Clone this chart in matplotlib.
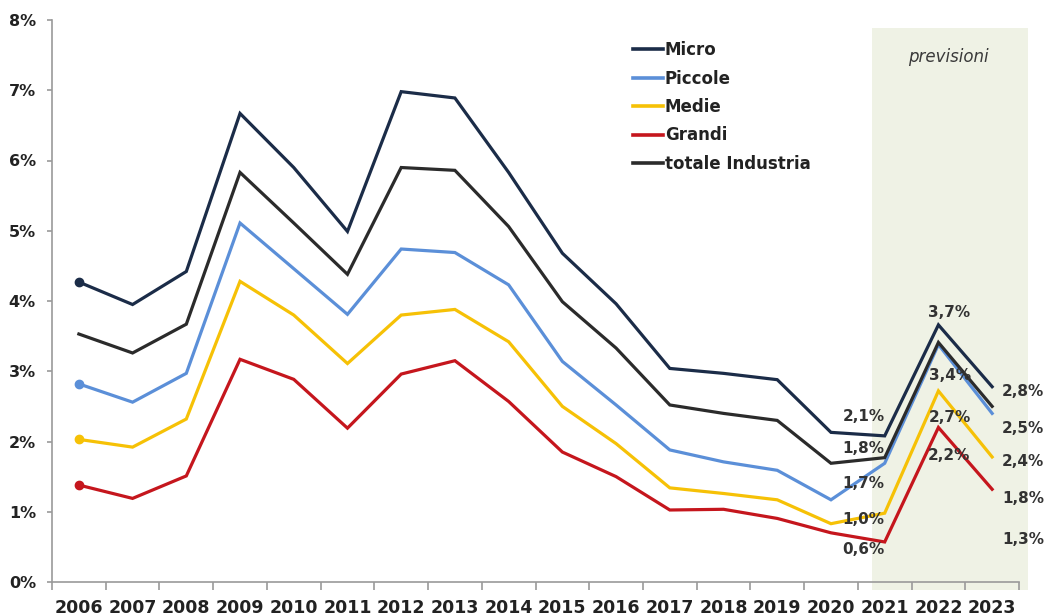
import matplotlib
matplotlib.use("Agg")
import matplotlib.pyplot as plt
from matplotlib.patches import Rectangle
from matplotlib.lines import Line2D

# ---- data ----
years = ["2006", "2007", "2008", "2009", "2010", "2011", "2012", "2013", "2014",
         "2015", "2016", "2017", "2018", "2019", "2020", "2021", "2022", "2023"]
micro = [4.27, 3.95, 4.42, 6.67, 5.90, 4.99, 6.98, 6.89, 5.83,
         4.68, 3.96, 3.04, 2.97, 2.88, 2.13, 2.08, 3.66, 2.78]
piccole = [2.82, 2.56, 2.97, 5.11, 4.46, 3.81, 4.74, 4.69, 4.23,
           3.14, 2.52, 1.88, 1.71, 1.59, 1.17, 1.69, 3.38, 2.40]
medie = [2.03, 1.92, 2.32, 4.28, 3.80, 3.11, 3.80, 3.88, 3.42,
         2.50, 1.97, 1.34, 1.26, 1.17, 0.83, 0.98, 2.72, 1.78]
grandi = [1.38, 1.19, 1.51, 3.17, 2.885, 2.19, 2.96, 3.15, 2.57,
          1.85, 1.50, 1.025, 1.035, 0.905, 0.70, 0.57, 2.20, 1.32]
totale = [3.53, 3.26, 3.67, 5.83, 5.11, 4.38, 5.90, 5.86, 5.06,
          3.99, 3.33, 2.52, 2.40, 2.30, 1.69, 1.77, 3.41, 2.50]
y_ticks = [0, 1, 2, 3, 4, 5, 6, 7, 8]
forecast_from = "2021"

# ---- styling ----
FONT = "DejaVu Sans"
TXT = "#222222"
AXC = "#9a9a9a"
series = [
    # name, values, colour, start dot
    ("Grandi", grandi, "#c5161d", True),
    ("Medie", medie, "#f6c106", True),
    ("Piccole", piccole, "#5b8fd8", True),
    ("totale Industria", totale, "#2b2b2b", False),
    ("Micro", micro, "#1b2c48", True),
]
legend_order = ["Micro", "Piccole", "Medie", "Grandi", "totale Industria"]

# label placements: (series, year index, dx px, dy px, ha)
labels = [
    ("Micro", 15, 0, 19, "right"), ("totale Industria", 15, 0, 9, "right"),
    ("Piccole", 15, 0, -20, "right"), ("Medie", 15, 0, -6, "right"),
    ("Grandi", 15, 0, -8, "right"),
    ("Micro", 16, 11, 12, "center"), ("totale Industria", 16, 12, -33, "center"),
    ("Medie", 16, 11, -27, "center"), ("Grandi", 16, 11, -28, "center"),
    ("Micro", 17, 10, -5, "left"), ("totale Industria", 17, 10, -22, "left"),
    ("Piccole", 17, 10, -48, "left"), ("Medie", 17, 10, -42, "left"),
    ("Grandi", 17, 10, -50, "left"),
]

fig = plt.figure(figsize=(10.47, 6.16), dpi=100)
ax = fig.add_axes([52 / 1047, 1 - 582 / 616, (1019 - 52) / 1047, (582 - 20) / 616])

x = list(range(len(years)))
ax.set_xlim(-0.5, len(years) - 0.5)
ax.set_ylim(0, 8)

# forecast band
fi = years.index(forecast_from)
band = Rectangle((fi - 0.23, -0.115), 2.9, 8.0, facecolor="#eff2e5",
                 edgecolor="none", zorder=0, clip_on=False)
ax.add_patch(band)
ax.text(fi + 1.18, 7.47, "previsioni", style="italic", fontsize=12,
        color="#3a3a3a", ha="center", va="center", family=FONT)

handles = {}
for name, vals, col, dot in series:
    ax.plot(x, vals, color=col, lw=2.3, solid_joinstyle="miter", zorder=3)
    if dot:
        ax.plot(x[0], vals[0], "o", color=col, ms=6, zorder=4)
    handles[name] = Line2D([], [], color=col, lw=2.6)

values = {name: vals for name, vals, _, _ in series}
for name, i, dx, dy, ha in labels:
    v = values[name][i]
    ax.annotate(f"{v:.1f}%".replace(".", ","), (x[i], v),
                xytext=(dx, dy), textcoords="offset pixels",
                ha=ha, va="center", fontsize=11, fontweight="bold",
                color="#333333", family=FONT, annotation_clip=False,
                zorder=5)

# axes
for s in ("top", "right"):
    ax.spines[s].set_visible(False)
for s in ("left", "bottom"):
    ax.spines[s].set_color(AXC)
    ax.spines[s].set_linewidth(1.2)

ax.set_yticks(y_ticks)
ax.set_yticklabels([f"{t}%" for t in y_ticks], fontsize=11.5,
                   fontweight="bold", family=FONT, color=TXT)
ax.tick_params(axis="y", length=3.6, width=1.2, color=AXC, pad=8)

ax.set_xticks(x)
ax.set_xticklabels(years, fontsize=12.5, fontweight="bold", family=FONT,
                   color=TXT)
ax.set_xticks([i - 0.5 for i in range(len(years) + 1)], minor=True)
ax.tick_params(axis="x", which="major", length=0, pad=12)
ax.tick_params(axis="x", which="minor", length=5.8, width=1.2, color=AXC)

leg = fig.legend([handles[n] for n in legend_order], legend_order,
                 loc="upper left", bbox_to_anchor=(633 / 1047, 1 - 41 / 616),
                 frameon=False, handlelength=1.8, handletextpad=0.12,
                 labelspacing=0.63, borderpad=0, borderaxespad=0,
                 prop={"family": FONT, "weight": "bold", "size": 12})
for t in leg.get_texts():
    t.set_color(TXT)

fig.savefig("out.png", dpi=100)
